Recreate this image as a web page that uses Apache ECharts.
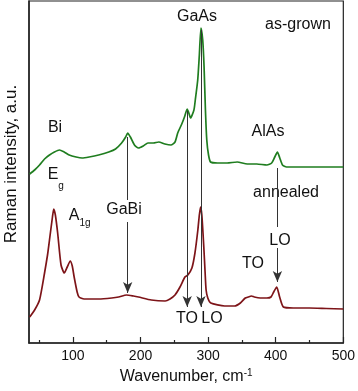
<!DOCTYPE html>
<html>
<head>
<meta charset="utf-8">
<script src="https://cdn.jsdelivr.net/npm/echarts@6/dist/echarts.min.js"></script>
<style>
  html, body { margin: 0; padding: 0; background: #fff; }
  #main { width: 358px; height: 391px; }
</style>
</head>
<body>
<div id="main"></div>
<script>
// as-grown spectrum [wavenumber, intensity]
var asGrown = [
  [36,169],[43.3,173],[50.6,178],[58,184],[65.3,188],[72.6,191],[80,193],[87,191],
  [94.5,188],[104.7,186],[113.5,185],[124,186],[138,188],[153,191],[163,194],[172,200],
  [178,206],[181,210],[185,206],[191,198],[197,195],[204,197],[211,200],[219,200],
  [227,201],[236,199],[245,198],[251,201],[255,210],[261,219],[265,226],[269,234],
  [271,231],[274,225],[279,233],[281,243],[284.6,263],[287,288],[289.4,315],[292,303],
  [294,276],[296,233],[298,203],[300.6,188],[303.6,181],[314,180],[328,180],[343,181],
  [358,179],[372,179],[387,178],[394,180],[398.6,186],[402.5,191],[406,185],[410,178],
  [416,176],[431,176],[453,176],[475,176],[500,176]
];
// annealed spectrum
var annealed = [
  [36,26],[43.3,33],[50.6,43],[58,70],[62.4,88],[65.3,103],[69.7,126],[71.6,134],
  [74,128],[77.4,110],[82.4,78],[87.2,70],[91.6,76],[96,82],[99,77],[101.8,66],
  [106.2,51],[109,46],[116.4,44],[138.4,44],[157.4,45],[167.6,46],[179.3,48],[189.5,47],
  [197,46],[216,43],[236.4,42],[243.6,44],[251,48],[258.4,56],[265.7,66],[270,68],
  [276,75],[280.5,90],[284.8,113],[287,128],[288.8,136],[290.7,128],[293.6,96],[295.5,71],
  [297,53],[299.5,45],[303.9,40],[324.4,37],[339,37],[347.7,40],[355,45],[359.4,46],
  [364,47],[368.3,46],[377,45],[387,45],[393,46],[397,51],[401.5,56],[405.8,46],
  [411.3,36],[426,35],[449.8,35],[474.6,34.5],[500,34]
];
var majorTicks = [100, 200, 300, 400, 500];
var minorTicks = [50, 150, 250, 350, 450];
// guide lines: [wavenumber, from, to, arrow?]
var guides = [
  [181, 206, 143, false],
  [181, 121, 50, true],
  [269, 232, 36, true],
  [289.4, 313, 36, true],
  [402.5, 175, 116, false],
  [402.5, 95, 61, true]
];

var chart = echarts.init(document.getElementById('main'));
var font = 'Liberation Sans, Arial, sans-serif';

var markData = guides.map(function (g) {
  return [
    { coord: [g[0], g[1]], symbol: 'none' },
    { coord: [g[0], g[2]], symbol: g[3] ? 'arrow' : 'none' }
  ];
});

function txt(s, x, y, size) {
  return {
    type: 'text', x: x, y: y, silent: true,
    style: { text: s, font: (size || 16) + 'px ' + font, fill: '#111', align: 'center', verticalAlign: 'middle' }
  };
}

var option = {
  backgroundColor: '#fff',
  animation: false,
  grid: { left: 29, right: 10, top: 1, bottom: 48, show: true, borderColor: '#222', borderWidth: 1.2 },
  xAxis: [{
    type: 'value', min: 35, max: 500,
    name: 'Wavenumber, cm{sup|-1}', nameLocation: 'middle', nameGap: 20,
    nameTextStyle: { fontFamily: font, fontSize: 16, color: '#111',
      rich: { sup: { fontFamily: font, fontSize: 10, color: '#111', verticalAlign: 'top', padding: [0, 0, 8, 0] } } },
    axisLine: { show: true, lineStyle: { color: '#222', width: 1.5 } },
    axisTick: { show: true, inside: true, length: 6, customValues: majorTicks, lineStyle: { color: '#222', width: 1.2 } },
    axisLabel: { show: true, customValues: majorTicks, margin: 6, fontFamily: font, fontSize: 14, color: '#111' },
    splitLine: { show: false }
  }, {
    type: 'value', min: 35, max: 500, position: 'bottom',
    axisLine: { show: false },
    axisTick: { show: true, inside: true, length: 3, customValues: minorTicks, lineStyle: { color: '#222', width: 1.2 } },
    axisLabel: { show: false },
    splitLine: { show: false }
  }],
  yAxis: {
    type: 'value', min: 0, max: 342,
    axisLine: { show: true, lineStyle: { color: '#222', width: 1.5 } },
    axisTick: { show: false }, axisLabel: { show: false }, splitLine: { show: false }
  },
  graphic: [
    {
      type: 'text', x: 11, y: 164, rotation: Math.PI / 2, silent: true,
      style: { text: 'Raman intensity, a.u.', font: '17px ' + font, fill: '#111', align: 'center', verticalAlign: 'middle' }
    },
    txt('GaAs', 197, 17),
    txt('as-grown', 298, 25),
    txt('Bi', 55, 128),
    txt('E', 53, 175),
    txt('g', 61, 186, 10),
    txt('AlAs', 268, 132),
    txt('annealed', 286, 193),
    txt('LO', 280, 241),
    txt('TO', 253, 264),
    txt('A', 74, 216),
    txt('1g', 85, 223, 10),
    txt('GaBi', 124, 210),
    txt('TO', 187, 319),
    txt('LO', 212, 319)
  ],
  series: [{
    name: 'as-grown', type: 'line', data: asGrown, xAxisIndex: 0,
    showSymbol: false, smooth: 0.2,
    lineStyle: { color: '#1f7d1f', width: 1.7 }, itemStyle: { color: '#1f7d1f' },
    markLine: {
      silent: true, symbolSize: [7, 11], animation: false,
      label: { show: false },
      lineStyle: { color: '#333', width: 1, type: 'solid' },
      data: markData
    }
  }, {
    name: 'annealed', type: 'line', data: annealed, xAxisIndex: 0,
    showSymbol: false, smooth: 0.2,
    lineStyle: { color: '#7d1418', width: 1.7 }, itemStyle: { color: '#7d1418' }
  }]
};
chart.setOption(option);
</script>
</body>
</html>
